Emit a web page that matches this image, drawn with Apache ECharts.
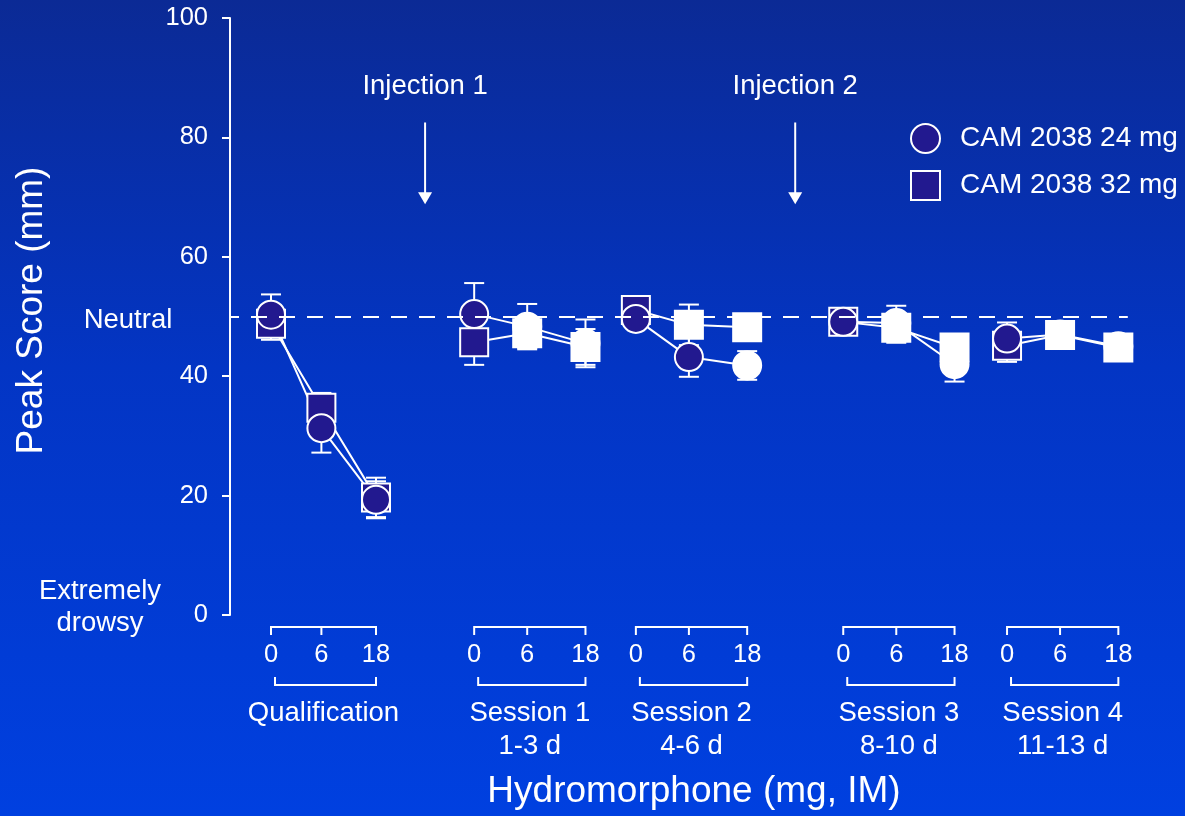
<!DOCTYPE html>
<html><head><meta charset="utf-8">
<script src="https://cdn.jsdelivr.net/npm/echarts@6/dist/echarts.min.js"></script>
<style>html,body{margin:0;padding:0;width:1185px;height:816px;overflow:hidden;background:#0036c8}#c{width:1185px;height:816px}</style>
</head><body><div id="c"></div>
<script>
// ---------- data ----------
const groupNames = ['Qualification', 'Session 1', 'Session 2', 'Session 3', 'Session 4'];
const groupSubLabels = ['', '1-3 d', '4-6 d', '8-10 d', '11-13 d'];
const doseLabels = ['0', '6', '18'];
const seriesNames = ['CAM 2038 24 mg', 'CAM 2038 32 mg'];
const yTickValues = [0, 20, 40, 60, 80, 100];
const neutralValue = 50;
const injectionLabels = ['Injection 1', 'Injection 2'];
const injectionAfterGroup = [0, 2];

// values in group order (Q, S1..S4), doses 0/6/18 within each group
const cam24 =    [50.3, 31.3, 19.3, 50.4, 48.3, 45.5, 49.6, 43.2, 41.8, 49.1, 48.9, 42.0, 46.3, 47.0, 45.0];
const cam24Err = [3.4, 4.1, 3.1, 5.2, 3.8, 4.0, 1.5, 3.3, 2.4, 1.2, 2.9, 2.9, 2.7, 1.0, 1.0];
const cam32 =    [48.8, 34.7, 19.7, 45.7, 47.2, 44.9, 51.1, 48.6, 48.2, 49.1, 48.1, 44.8, 45.1, 46.9, 44.8];
const cam32Err = [2.7, 2.5, 3.3, 3.8, 2.5, 3.0, 1.0, 3.4, 1.5, 1.0, 2.5, 2.0, 2.7, 1.0, 1.0];

// ---------- layout / style ----------
const groupStart = [0, 3.87, 6.95, 10.9, 14.02];
const doseOffsets = [[0, 0.96, 2.0], [0, 1.01, 2.12], [0, 1.01, 2.12], [0, 1.01, 2.12], [0, 1.01, 2.12]];
const X_MIN = -0.781, X_MAX = 17.124, DASH_END = 16.32;
const NAVY = '#22198f', WHITE = '#ffffff';
const FONT = '"Liberation Sans", Arial, sans-serif';
// points drawn with white fill (index into value arrays)
const whiteFill24 = [4, 5, 8, 10, 11, 13, 14];
const whiteFill32 = [4, 5, 7, 8, 10, 11, 13, 14];

function xOf(idx) { const g = Math.floor(idx / 3); return groupStart[g] + doseOffsets[g][idx % 3]; }

function lineData(vals) {
  const out = [];
  vals.forEach((v, i) => {
    out.push([xOf(i), v]);
    if (i % 3 === 2 && i < vals.length - 1) out.push([xOf(i) + 0.5, '-']);
  });
  return out;
}
function scatterData(vals, whites) {
  return vals.map((v, i) => ({
    value: [xOf(i), v],
    itemStyle: { color: whites.includes(i) ? WHITE : NAVY }
  }));
}
const errData = [];
cam24.forEach((v, i) => errData.push([xOf(i), v, cam24Err[i]]));
cam32.forEach((v, i) => errData.push([xOf(i), v, cam32Err[i]]));

function renderErr(params, api) {
  const x = api.value(0), y = api.value(1), e = api.value(2);
  const t = api.coord([x, y + e]), b = api.coord([x, y - e]);
  const hw = 10, st = { stroke: WHITE, lineWidth: 2 };
  return { type: 'group', children: [
    { type: 'line', shape: { x1: t[0], y1: t[1], x2: b[0], y2: b[1] }, style: st },
    { type: 'line', shape: { x1: t[0] - hw, y1: t[1], x2: t[0] + hw, y2: t[1] }, style: st },
    { type: 'line', shape: { x1: b[0] - hw, y1: b[1], x2: b[0] + hw, y2: b[1] }, style: st }
  ]};
}

function txt(text, x, y, size) {
  return { type: 'text', style: { text: text, x: x, y: y, fill: WHITE, fontSize: size, fontFamily: FONT, align: 'center', verticalAlign: 'middle' } };
}

function renderDecor(params, api) {
  const g = api.value(2);
  const xs = doseOffsets[g].map(o => api.coord([groupStart[g] + o, 0])[0]);
  const base = api.coord([groupStart[g], 0])[1];
  const st = { stroke: WHITE, lineWidth: 2 };
  const ch = [];
  const yb = base + 12;
  ch.push({ type: 'line', shape: { x1: xs[0], y1: yb, x2: xs[2], y2: yb }, style: st });
  xs.forEach((x, k) => {
    ch.push({ type: 'line', shape: { x1: x, y1: yb - 1, x2: x, y2: yb + 8 }, style: st });
    ch.push(txt(doseLabels[k], x, base + 40, 25.5));
  });
  const yl = base + 70;
  ch.push({ type: 'line', shape: { x1: xs[0] + 4, y1: yl, x2: xs[2], y2: yl }, style: st });
  ch.push({ type: 'line', shape: { x1: xs[0] + 4, y1: yl + 1, x2: xs[0] + 4, y2: yl - 8 }, style: st });
  ch.push({ type: 'line', shape: { x1: xs[2], y1: yl + 1, x2: xs[2], y2: yl - 8 }, style: st });
  const cx = (xs[0] + xs[2]) / 2;
  ch.push(txt(groupNames[g], cx, base + 98, 27.5));
  if (groupSubLabels[g]) ch.push(txt(groupSubLabels[g], cx, base + 131, 27.5));
  return { type: 'group', children: ch };
}

function renderInjection(params, api) {
  const k = api.value(2);
  const g = injectionAfterGroup[k];
  const x = (groupStart[g] + doseOffsets[g][2] + groupStart[g + 1]) / 2;
  const top = api.coord([x, 82.5]), tip = api.coord([x, 68.8]), lab = api.coord([x, 88.5]);
  return { type: 'group', children: [
    { type: 'line', shape: { x1: top[0], y1: top[1], x2: tip[0], y2: tip[1] - 10 }, style: { stroke: WHITE, lineWidth: 2 } },
    { type: 'polygon', shape: { points: [[tip[0] - 7, tip[1] - 12], [tip[0] + 7, tip[1] - 12], [tip[0], tip[1]]] }, style: { fill: WHITE } },
    txt(injectionLabels[k], lab[0], lab[1], 27.5)
  ]};
}

const chart = echarts.init(document.getElementById('c'));
chart.setOption({
  animation: false,
  backgroundColor: { type: 'linear', x: 0, y: 0, x2: 0, y2: 1, colorStops: [
    { offset: 0, color: '#0b2a95' }, { offset: 0.45, color: '#0335c4' }, { offset: 1, color: '#0040e0' }] },
  textStyle: { fontFamily: FONT },
  grid: { left: 230, right: 15, top: 18, bottom: 201 },
  xAxis: { type: 'value', min: X_MIN, max: X_MAX, show: false },
  yAxis: {
    type: 'value', min: yTickValues[0], max: yTickValues[yTickValues.length - 1], interval: 20,
    name: 'Peak Score (mm)', nameLocation: 'middle', nameGap: 180,
    nameTextStyle: { color: WHITE, fontSize: 37, fontFamily: FONT, padding: [0, 0, 0, 12] },
    axisLine: { show: true, onZero: false, lineStyle: { color: WHITE, width: 2 } },
    axisTick: { show: true, length: 8, lineStyle: { color: WHITE, width: 2 } },
    axisLabel: { color: WHITE, fontSize: 25.5, margin: 22, fontFamily: FONT },
    splitLine: { show: false }
  },
  legend: {
    selectedMode: false, orient: 'vertical', left: 905, top: 118, itemWidth: 29, itemHeight: 29, itemGap: 16,
    data: [{ name: seriesNames[0], icon: 'circle' }, { name: seriesNames[1], icon: 'rect' }],
    itemStyle: { borderColor: WHITE, borderWidth: 2 },
    textStyle: { color: WHITE, fontSize: 28, fontFamily: FONT, padding: [0, 0, 0, 15] }
  },
  graphic: [
    { type: 'text', x: 128, y: 320, style: { text: 'Neutral', fill: WHITE, fontSize: 27.5, fontFamily: FONT, align: 'center', verticalAlign: 'middle' } },
    { type: 'text', x: 100, y: 607, style: { text: 'Extremely\ndrowsy', fill: WHITE, fontSize: 27.5, lineHeight: 32, fontFamily: FONT, align: 'center', verticalAlign: 'middle' } },
    { type: 'text', x: 694, y: 792, style: { text: 'Hydromorphone (mg, IM)', fill: WHITE, fontSize: 37, fontFamily: FONT, align: 'center', verticalAlign: 'middle' } }
  ],
  series: [
    { name: 'line24', type: 'line', data: lineData(cam24), showSymbol: false, silent: true, z: 2,
      lineStyle: { color: WHITE, width: 2 },
      markLine: { silent: true, symbol: ['none', 'none'], label: { show: false },
        lineStyle: { color: WHITE, width: 2, type: [16, 12], dashOffset: 7 },
        data: [[{ coord: [X_MIN, neutralValue] }, { coord: [DASH_END, neutralValue] }]] } },
    { name: 'line32', type: 'line', data: lineData(cam32), showSymbol: false, silent: true, z: 2,
      lineStyle: { color: WHITE, width: 2 } },
    { name: 'err', type: 'custom', renderItem: renderErr, data: errData, z: 1, silent: true },
    { name: seriesNames[1], type: 'scatter', symbol: 'rect', symbolSize: 28, data: scatterData(cam32, whiteFill32), z: 3,
      itemStyle: { color: NAVY, borderColor: WHITE, borderWidth: 2, opacity: 1 } },
    { name: seriesNames[0], type: 'scatter', symbol: 'circle', symbolSize: 28, data: scatterData(cam24, whiteFill24), z: 4,
      itemStyle: { color: NAVY, borderColor: WHITE, borderWidth: 2, opacity: 1 } },
    { name: 'decor', type: 'custom', renderItem: renderDecor, clip: false, silent: true, z: 5,
      data: groupNames.map((n, i) => [groupStart[i], 0, i]) },
    { name: 'inject', type: 'custom', renderItem: renderInjection, clip: false, silent: true, z: 5,
      data: injectionLabels.map((n, i) => [groupStart[injectionAfterGroup[i]] + 2.5, 80, i]) }
  ]
});
</script></body></html>
